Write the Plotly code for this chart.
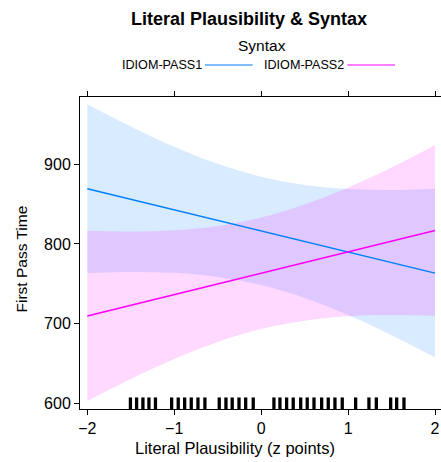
import plotly.graph_objects as go

# ---- data ----
x_grid = [-2.0, -1.5, -1.0, -0.5, 0.0, 0.5, 1.0, 1.5, 2.0]

pass1_fit = [869.4, 856.2, 842.9, 829.6, 816.4, 803.1, 789.9, 776.6, 763.4]
pass1_upper = [975.4, 947.5, 922.1, 900.6, 884.4, 874.1, 869.1, 867.9, 869.4]
pass1_lower = [763.4, 764.9, 763.7, 758.6, 748.4, 732.1, 710.7, 685.3, 657.4]

pass2_fit = [709.6, 723.0, 736.4, 749.8, 763.2, 776.6, 790.0, 803.4, 816.8]
pass2_upper = [816.6, 815.6, 817.3, 822.7, 833.2, 849.5, 870.9, 896.0, 923.8]
pass2_lower = [602.6, 630.4, 655.5, 676.9, 693.2, 703.7, 709.1, 710.8, 709.8]

rug_x = [-1.504, -1.433, -1.360, -1.291, -1.216,
         -1.030, -0.954, -0.880, -0.804, -0.727, -0.647,
         -0.482, -0.405, -0.333, -0.255, -0.178, -0.091,
         0.147, 0.216, 0.293, 0.369, 0.455, 0.530, 0.608, 0.696, 0.772, 0.849, 0.933,
         1.087, 1.240, 1.325, 1.490, 1.559, 1.643]

x_ticks = [-2, -1, 0, 1, 2]
y_ticks = [600, 700, 800, 900]

series = [
    ("IDIOM-PASS1", pass1_fit, pass1_upper, pass1_lower, "#0080ff", "rgba(0,128,255,0.15)"),
    ("IDIOM-PASS2", pass2_fit, pass2_upper, pass2_lower, "#ff00ff", "rgba(255,0,255,0.15)"),
]

FONT = "Liberation Sans, Arial, sans-serif"

fig = go.Figure()

# bands
for name, fit, up, lo, col, fillcol in series:
    fig.add_trace(go.Scatter(x=x_grid, y=lo, mode="lines", line=dict(width=0, shape="spline"),
                             showlegend=False, hoverinfo="skip"))
    fig.add_trace(go.Scatter(x=x_grid, y=up, mode="lines", line=dict(width=0, shape="spline"),
                             fill="tonexty", fillcolor=fillcol, showlegend=False, hoverinfo="skip"))
# lines
for name, fit, up, lo, col, fillcol in series:
    fig.add_trace(go.Scatter(x=x_grid, y=fit, mode="lines", line=dict(color=col, width=1.5),
                             name=name, showlegend=False))

# rug
for rx in rug_x:
    fig.add_shape(type="line", xref="x", yref="y domain", x0=rx, x1=rx, y0=0, y1=0.037,
                  line=dict(color="black", width=3.3), layer="above")

# plot area in pixels: left 80, right 441(+), top 97, bottom 409
def px_x(p):
    return (p - 80) / 361.0

def px_y(p):
    return (409 - p) / 312.0

annotations = [
    dict(text="<b>Literal Plausibility & Syntax</b>", x=px_x(248.5), y=px_y(19), xref="paper", yref="paper",
         showarrow=False, xanchor="center", yanchor="middle", font=dict(size=18, color="black", family=FONT)),
    dict(text="Syntax", x=px_x(261.5), y=px_y(46), xref="paper", yref="paper",
         showarrow=False, xanchor="center", yanchor="middle", font=dict(size=15.5, color="black", family=FONT)),
    dict(text="Literal Plausibility (z points)", x=px_x(234.5), y=px_y(448), xref="paper", yref="paper",
         showarrow=False, xanchor="center", yanchor="middle", font=dict(size=16.5, color="black", family=FONT)),
    dict(text="First Pass Time", x=px_x(20.5), y=px_y(259), xref="paper", yref="paper", textangle=-90,
         showarrow=False, xanchor="center", yanchor="middle", font=dict(size=15.5, color="black", family=FONT)),
]
legend_items = [
    ("IDIOM-PASS1", 120, 205, 252.7, "#0080ff"),
    ("IDIOM-PASS2", 261.7, 347.3, 395, "#ff00ff"),
]
for label, tx, lx0, lx1, col in legend_items:
    annotations.append(dict(text=label, x=px_x(tx), y=px_y(65.5), xref="paper", yref="paper",
                            showarrow=False, xanchor="left", yanchor="middle",
                            font=dict(size=12.6, color="black", family=FONT)))
    fig.add_shape(type="line", xref="paper", yref="paper", x0=px_x(lx0), x1=px_x(lx1),
                  y0=px_y(65), y1=px_y(65), line=dict(color=col, width=1.2))

fig.update_layout(
    width=441, height=462, autosize=False,
    margin=dict(l=80, r=0, t=97, b=53, pad=0),
    paper_bgcolor="white", plot_bgcolor="white",
    font=dict(family=FONT, color="black", size=16),
    showlegend=False,
    annotations=annotations,
    xaxis=dict(range=[-2.084, 2.069], tickvals=x_ticks, ticks="outside", ticklen=5, tickwidth=1,
               tickcolor="black", showline=True, linecolor="black", linewidth=1, mirror="ticks",
               showgrid=False, zeroline=False, tickfont=dict(size=16)),
    yaxis=dict(range=[592.8, 984.5], tickvals=y_ticks, ticks="outside", ticklen=5, tickwidth=1,
               tickcolor="black", showline=True, linecolor="black", linewidth=1, mirror=False,
               showgrid=False, zeroline=False, tickfont=dict(size=16)),
)

fig.write_html("out.html")
